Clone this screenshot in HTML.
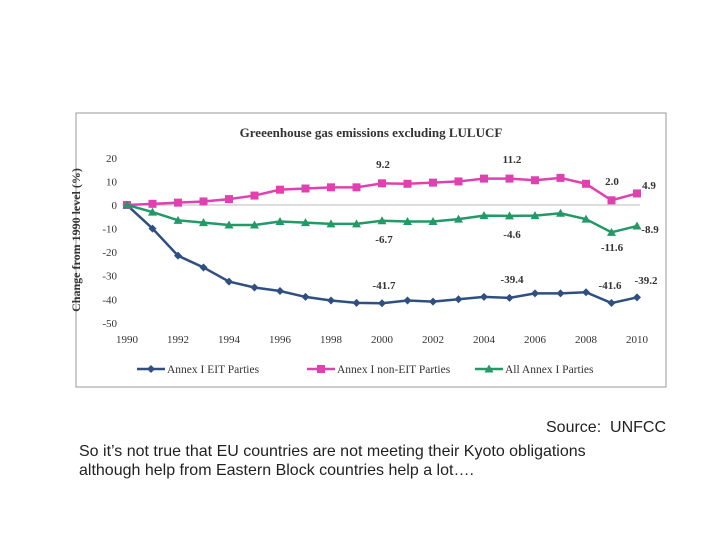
<!DOCTYPE html>
<html><head><meta charset="utf-8"><style>
body{margin:0;background:#fff;width:720px;height:540px;overflow:hidden;position:relative;font-family:"Liberation Sans",sans-serif}
.t{position:absolute;font-size:16px;color:#222}
</style></head><body>
<svg width="720" height="540" style="position:absolute;left:0;top:0">
<rect x="76" y="113" width="590" height="274" fill="#fff" stroke="#999"/>
<g id="g"></g>
</svg>
<div class="t" style="left:546px;top:419px">Source:&nbsp; UNFCC</div>
<div class="t" style="left:79px;top:442px;line-height:19px">So it’s not true that EU countries are not meeting their Kyoto obligations<br>although help from Eastern Block countries help a lot….</div>
<script>
const years=[1990,1991,1992,1993,1994,1995,1996,1997,1998,1999,2000,2001,2002,2003,2004,2005,2006,2007,2008,2009,2010];
const eit=[0,-10,-21.5,-26.5,-32.5,-35,-36.5,-39,-40.5,-41.5,-41.7,-40.5,-41,-40,-39,-39.4,-37.5,-37.5,-37,-41.6,-39.2];
const nonEit=[0,0.5,1,1.5,2.5,4,6.5,7,7.5,7.5,9.2,9,9.5,10,11.2,11.2,10.5,11.5,9,2.0,4.9];
const allAnnex=[0,-3,-6.5,-7.5,-8.5,-8.5,-7,-7.5,-8,-8,-6.7,-7,-7,-6,-4.5,-4.6,-4.5,-3.5,-6,-11.6,-8.9];
const yTicks=[20,10,0,-10,-20,-30,-40,-50];
const xTicks=[1990,1992,1994,1996,1998,2000,2002,2004,2006,2008,2010];
const X=y=>127+(y-1990)*25.5, Y=v=>205-v*2.357;
const g=document.getElementById('g'),NS='http://www.w3.org/2000/svg';
function el(t,a,txt){const e=document.createElementNS(NS,t);for(const k in a)e.setAttribute(k,a[k]);if(txt!=null)e.textContent=txt;g.appendChild(e);return e;}
const F='"Liberation Serif",serif';
let e=el('text',{x:371,y:137,'text-anchor':'middle','font-family':F,'font-size':13,'font-weight':'bold',fill:'#333'},'Greeenhouse gas emissions excluding LULUCF');

e=el('text',{x:0,y:0,transform:'translate(80,240) rotate(-90)','text-anchor':'middle','font-family':F,'font-size':12,'font-weight':'bold',fill:'#333'},'Change from 1990 level (%)');

yTicks.forEach(v=>{const t=el('text',{x:117,y:Y(v)+4,'text-anchor':'end','font-family':F,'font-size':11,fill:'#333'},v);
});
xTicks.forEach(v=>{const t=el('text',{x:X(v),y:343,'text-anchor':'middle','font-family':F,'font-size':11,fill:'#333'},v);
});
e=el('line',{x1:122,x2:640,y1:Y(0),y2:Y(0),stroke:'#bbb'});
function marker(type,x,y,c){if(type==='d')return el('polygon',{points:`${x},${y-4} ${x+4},${y} ${x},${y+4} ${x-4},${y}`,fill:c});
if(type==='s')return el('rect',{x:x-4,y:y-4,width:8,height:8,fill:c});return el('polygon',{points:`${x},${y-4.5} ${x+4.5},${y+3.5} ${x-4.5},${y+3.5}`,fill:c});}
const series=[[eit,'#2E4F80','d','eit'],[nonEit,'#E040B0','s','non-eit'],[allAnnex,'#229966','t','all-annex']];
series.forEach(([d,c,m,n])=>{const p=el('polyline',{points:d.map((v,i)=>X(years[i])+','+Y(v)).join(' '),fill:'none',stroke:c,'stroke-width':2.5});

d.forEach((v,i)=>{const k=marker(m,X(years[i]),Y(v),c);});});
const labels=[[383,168,'9.2'],[512,163,'11.2'],[612,185,'2.0'],[649,189,'4.9'],[384,243,'-6.7'],[512,238,'-4.6'],[612,251,'-11.6'],[650,233,'-8.9'],[384,289,'-41.7'],[512,283,'-39.4'],[610,289,'-41.6'],[646,284,'-39.2']];
labels.forEach(([x,y,s])=>{const t=el('text',{x:x,y:y,'text-anchor':'middle','font-family':F,'font-size':11,'font-weight':'bold',fill:'#333'},s);
});
const leg=[[137,'Annex I EIT Parties','#2E4F80','d'],[307,'Annex I non-EIT Parties','#E040B0','s'],[475,'All Annex I Parties','#229966','t']];
leg.forEach(([x,s,c,m])=>{const l=el('line',{x1:x,x2:x+28,y1:369,y2:369,stroke:c,'stroke-width':2.5});
const k=marker(m,x+14,369,c);
const t=el('text',{x:x+30,y:373,'font-family':F,'font-size':11.5,fill:'#333'},s);});
</script>
</body></html>
